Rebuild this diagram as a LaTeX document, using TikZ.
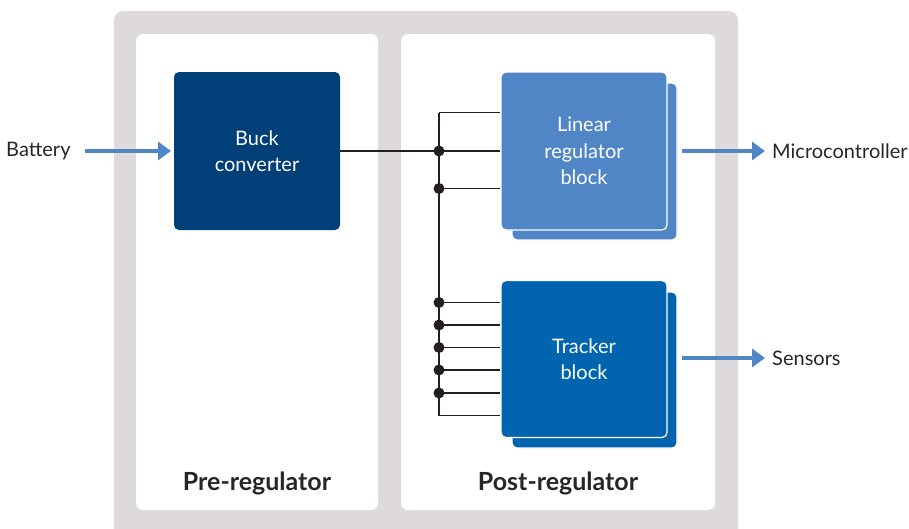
\documentclass[tikz,border=0pt]{standalone}
\usepackage{fontspec}
\setmainfont{Lato}
\usetikzlibrary{arrows.meta}
\definecolor{panelgray}{HTML}{DEDADB}
\definecolor{buckblue}{HTML}{003F78}
\definecolor{linblue}{HTML}{5086C6}
\definecolor{trkblue}{HTML}{0064AF}
\definecolor{arrblue}{HTML}{4F86C6}
\definecolor{wirec}{HTML}{231F20}
\begin{document}
\begin{tikzpicture}[x=1pt,y=-1pt,
  panel/.style={fill=white,rounded corners=7pt,draw=none},
  blockbox/.style={rounded corners=5pt,draw=none,text=white,font=\fontsize{20}{26.5}\selectfont,align=center,inner sep=0pt},
  shadowbox/.style={rounded corners=5pt,draw=white,line width=1.2pt},
  wire/.style={draw=wirec,line width=1.4pt},
  dot/.style={circle,fill=wirec,inner sep=0pt,minimum size=11pt},
  bigarrow/.style={draw=arrblue,line width=4pt,-{Triangle[length=13pt,width=18pt]}},
  lbl/.style={font=\fontsize{20}{24}\selectfont,text=black!85,inner sep=0pt},
  title/.style={font=\fontsize{25}{30}\selectfont\bfseries,text=black!85,inner sep=0pt}]
\useasboundingbox (0,0) rectangle (909,528);
% outer gray
\fill[panelgray,rounded corners=9pt] (114,11) rectangle (738,545);
% panels
\fill[panel] (136,34) rectangle (378,510);
\fill[panel] (401,34) rectangle (715,510);
\node[title] (pre) at (257,483) {Pre-regulator};
\node[title] (post) at (558,483) {Post-regulator};
% buck
\node[blockbox,fill=buckblue,minimum width=166pt,minimum height=158pt] (buck) at (257,151) {Buck\\converter};
% linear regulator with shadow
\filldraw[shadowbox,fill=linblue] (512,83) rectangle (677,240);
\node[blockbox,fill=linblue,draw=white,line width=1.2pt,minimum width=166pt,minimum height=158pt] (lin) at (584,151) {Linear\\regulator\\block};
% tracker with shadow
\filldraw[shadowbox,fill=trkblue] (512,292) rectangle (677,448);
\node[blockbox,fill=trkblue,draw=white,line width=1.2pt,minimum width=166pt,minimum height=157pt] (trk) at (584,359) {Tracker\\block};
% bus coordinates
\coordinate (b1) at (439,112.5);
\coordinate (b2) at (439,151);
\coordinate (b3) at (439,188.5);
\coordinate (t1) at (439,302.5);
\coordinate (t2) at (439,325);
\coordinate (t3) at (439,347.5);
\coordinate (t4) at (439,370);
\coordinate (t5) at (439,393);
\coordinate (t6) at (439,415.5);
\draw[wire] (b1) -- (t6);
\draw[wire] (buck.east) -- (lin.west |- b2);
\foreach \c in {b1,b3} \draw[wire] (\c) -- (lin.west |- \c);
\foreach \c in {t1,t2,t3,t4,t5,t6} \draw[wire] (\c) -- (trk.west |- \c);
\foreach \c in {b2,b3,t1,t2,t3,t4,t5} \node[dot] at (\c) {};
% external
\node[lbl,anchor=west] (bat) at (6,151) {Battery};
\node[lbl,anchor=west] (mcu) at (772,151) {Microcontroller};
\node[lbl,anchor=west] (sen) at (772,358) {Sensors};
\draw[bigarrow] (85,151) -- (buck.west -| 171,151);
\coordinate (mcuA) at (682,151);
\coordinate (senA) at (682,358);
\draw[bigarrow] (mcuA) -- (mcu.west -| 765,151);
\draw[bigarrow] (senA) -- (sen.west -| 765,358);
\end{tikzpicture}
\end{document}
